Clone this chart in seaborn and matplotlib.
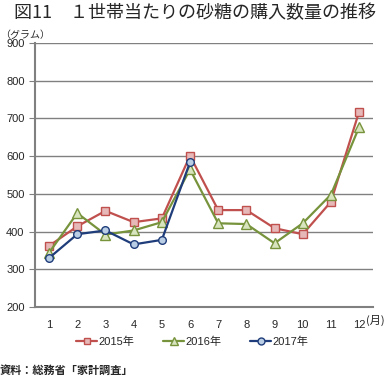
import numpy as np
import pandas as pd
import seaborn as sns
import matplotlib.pyplot as plt
from matplotlib.lines import Line2D

months = list(range(1, 13))
sugar_2015 = [362, 414, 455, 425, 435, 601, 457, 457, 409, 393, 479, 718]
sugar_2016 = [344, 449, 392, 403, 425, 565, 422, 420, 369, 422, 498, 677]
sugar_2017 = [330, 393, 403, 366, 378, 584]
years = ["2015年", "2016年", "2017年"]

sns.set_style("white")
plt.rcParams['font.family'] = ['Liberation Sans', 'Noto Sans CJK JP', 'DejaVu Sans']

rows = []
for yr, vals in zip(years, [sugar_2015, sugar_2016, sugar_2017]):
    for m, v in zip(months, vals):
        rows.append({"month": m, "grams": v, "year": yr})
df = pd.DataFrame(rows)

styles = {
    "2015年": dict(color="#c0504d", marker="s", mfc="#e6b9b8", ms=5.5),
    "2016年": dict(color="#77933c", marker="^", mfc="#d7e4bd", ms=6.5),
    "2017年": dict(color="#1f3d7a", marker="o", mfc="#b9cde5", ms=5.5),
}

fig = plt.figure(figsize=(3.91, 3.76), dpi=100)
ax = fig.add_axes([0.0895, 0.1835, 0.865, 0.702])

for yr in years:
    st = styles[yr]
    sub = df[df.year == yr]
    sns.lineplot(data=sub, x="month", y="grams", ax=ax, color=st["color"],
                 marker=st["marker"], markersize=st["ms"], markerfacecolor=st["mfc"],
                 markeredgecolor=st["color"], markeredgewidth=1, linewidth=1.6,
                 legend=False)

ax.set_xlim(0.5, 12.5)
ax.set_ylim(200, 900)
ax.set_yticks(range(200, 901, 100))
ax.set_xticks(months)
ax.set_xticks(np.arange(0.5, 13, 1), minor=True)
ax.tick_params(axis='x', which='major', length=0, labelsize=8, pad=9)
ax.tick_params(axis='x', which='minor', length=4, color='#808080', direction='out')
ax.tick_params(axis='y', length=4, color='#808080', labelsize=8, left=True)
ax.yaxis.grid(True, color='#808080', linewidth=1)
ax.set_axisbelow(True)
for s in ['top', 'right']:
    ax.spines[s].set_visible(False)
for s in ['left', 'bottom']:
    ax.spines[s].set_color('#808080')
    ax.spines[s].set_linewidth(1.5)
ax.set_xlabel("")
ax.set_ylabel("")

fig.text(0.036, 0.966, "図11　１世帯当たりの砂糖の購入数量の推移", fontsize=13.0,
         va='center', ha='left', family=['Noto Sans CJK JP'])
fig.text(0.0, 0.908, "（グラム）", fontsize=7.2, va='center', ha='left',
         family=['Noto Sans CJK JP'])
fig.text(0.936, 0.149, "(月)", fontsize=8, va='center', ha='left',
         family=['Noto Sans CJK JP'])
fig.text(0.0, 0.014, "資料：総務省「家計調査」", fontsize=8, fontweight='bold',
         va='center', ha='left', family=['Noto Sans CJK JP'])

handles = [Line2D([], [], color=styles[yr]["color"], marker=styles[yr]["marker"],
                  markersize=styles[yr]["ms"] - 0.5, markerfacecolor=styles[yr]["mfc"],
                  markeredgecolor=styles[yr]["color"], linewidth=1.6) for yr in years]
fig.legend(handles, years, loc='center', bbox_to_anchor=(0.492, 0.09), ncol=3,
           frameon=False, fontsize=8, handlelength=1.9, columnspacing=2.6,
           handletextpad=0.1)

fig.savefig("out.png", dpi=100)
